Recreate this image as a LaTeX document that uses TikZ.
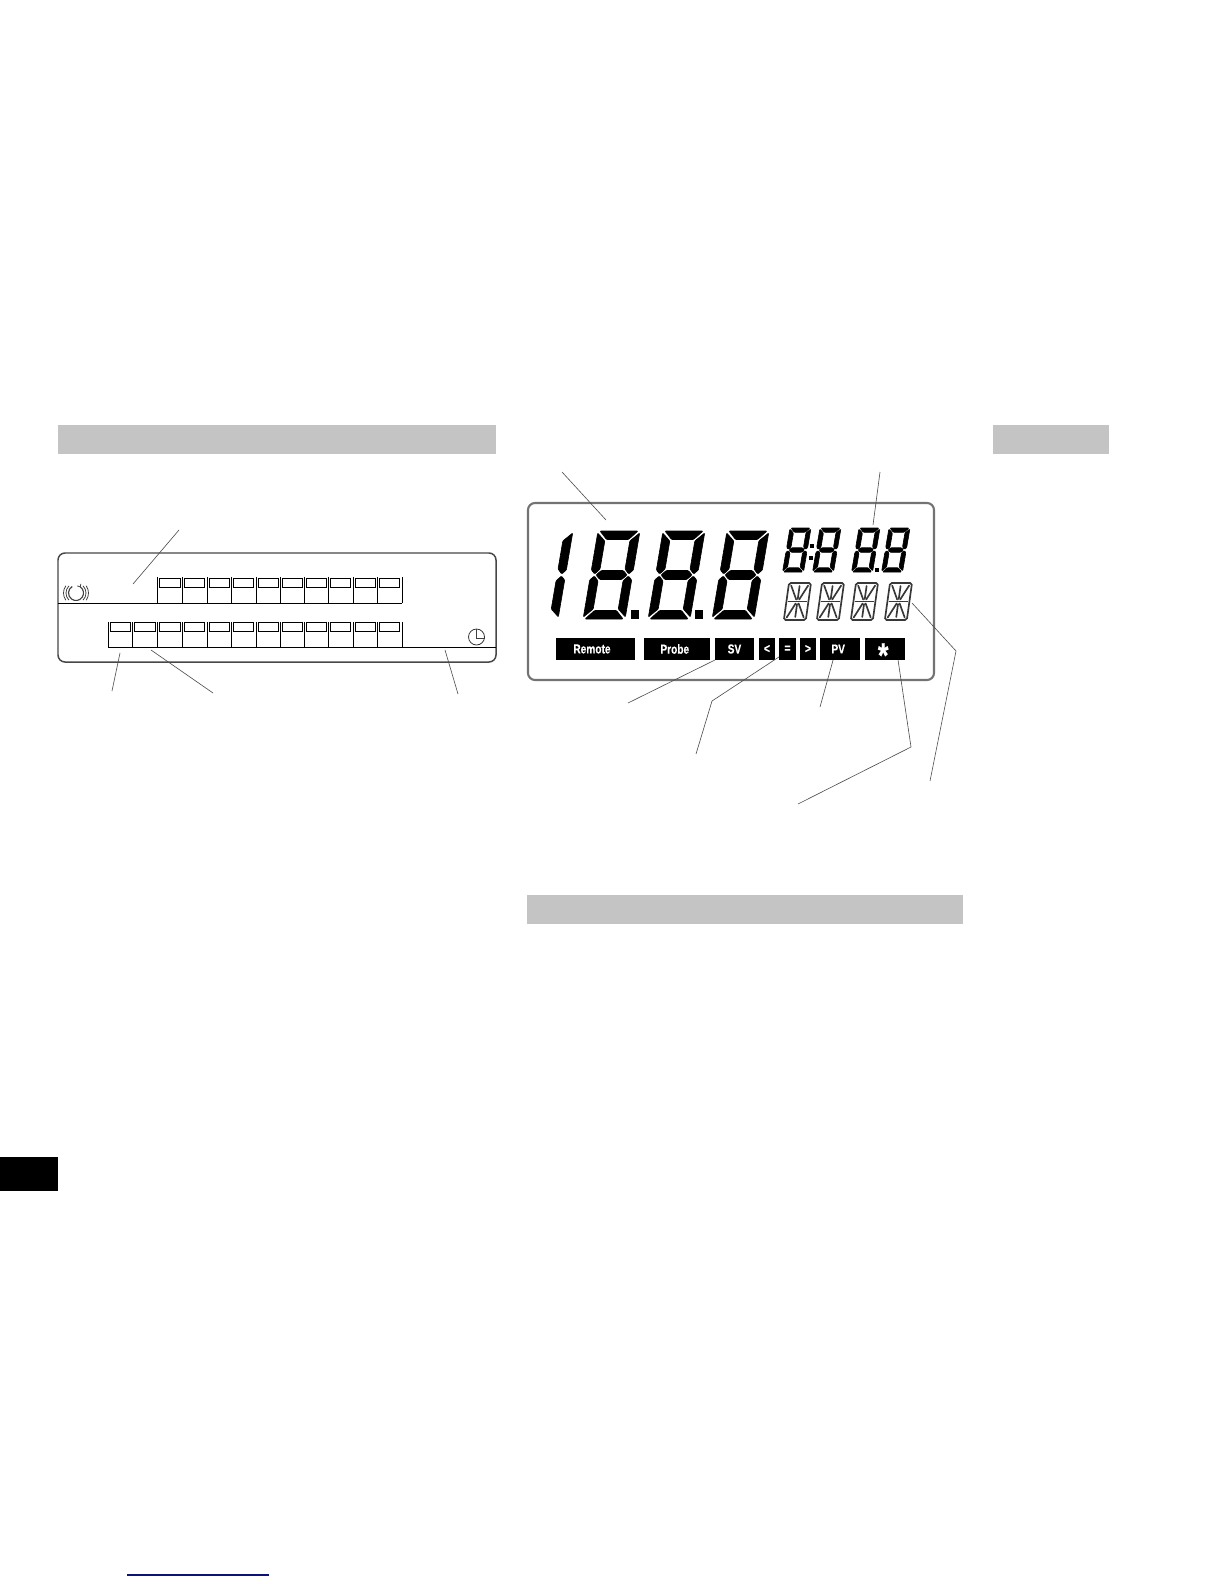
\documentclass[tikz,border=0pt]{standalone}
\usepackage{fontspec}
\newfontfamily\lcdfont[FakeStretch=0.78,BoldFeatures={FakeBold=0.3}]{Liberation Sans}
\usetikzlibrary{positioning}
\definecolor{bargray}{HTML}{C4C4C4}
\definecolor{linkblue}{HTML}{10107A}
\tikzset{
    headbar/.style={fill=bargray},
    panel/.style={draw=black!72, line width=0.85pt, rounded corners=4pt},
    lcdpanel/.style={draw=black!55, line width=1.2pt, rounded corners=4pt},
    keyline/.style={black, line width=0.55pt},
    leader/.style={black!70, line width=0.35pt},
    iconline/.style={black!75, line width=0.45pt},
    segfill/.style={fill=black, draw=black, line width=0.35pt, rounded corners=0.5pt},
    starseg/.style={black!78, line width=0.95pt, line cap=round},
    lcdbox/.style={rectangle, fill=black, text=white, inner sep=0pt, outer sep=0pt, minimum height=0.44cm, font=\lcdfont\bfseries\fontsize{7.4}{8}\selectfont}
}
% right hand segments only
\newcommand{\segright}[3]{
    \begin{scope}[shift={(#1,#2)}, scale=#3, xslant=0.17]
        \filldraw[segfill] (42,2) -- (33.5,10) -- (33.5,38) -- (38,43) -- (42,39) -- cycle;
        \filldraw[segfill] (42,49) -- (38,45) -- (33.5,50) -- (33.5,78) -- (42,86) -- cycle;
    \end{scope}
}
\newcommand{\segdigit}[3]{
    \segright{#1}{#2}{#3}
    \begin{scope}[shift={(#1,#2)}, scale=#3, xslant=0.17]
        \filldraw[segfill] (2,0) -- (40,0) -- (32,8.5) -- (10,8.5) -- cycle;
        \filldraw[segfill] (0,2) -- (8.5,10) -- (8.5,38) -- (4,43) -- (0,39) -- cycle;
        \filldraw[segfill] (5.5,44) -- (10,39.5) -- (32,39.5) -- (36.5,44) -- (32,48.5) -- (10,48.5) -- cycle;
        \filldraw[segfill] (0,49) -- (4,45) -- (8.5,50) -- (8.5,78) -- (0,86) -- cycle;
        \filldraw[segfill] (10,79.5) -- (32,79.5) -- (40,88) -- (2,88) -- cycle;
    \end{scope}
}
\newcommand{\stardigit}[2]{
    \begin{scope}[shift={(#1,#2)}, xslant=0.14]
        \draw[starseg, rounded corners=1pt] (0,0) rectangle (22,37);
        \draw[starseg] (2,18.5) -- (20,18.5);
        \draw[starseg] (11,3) -- (11,16) (11,21) -- (11,34);
        \draw[starseg] (2.5,2.5) -- (9.5,16.5) (19.5,2.5) -- (12.5,16.5);
        \draw[starseg] (2.5,34.5) -- (9.5,20.5) (19.5,34.5) -- (12.5,20.5);
    \end{scope}
}
\begin{document}
\begin{tikzpicture}[x=0.02cm, y=-0.02cm]
    \useasboundingbox (0,0) rectangle (1224,1584);

    \fill[headbar] (58,425) rectangle (496,454);
    \fill[headbar] (993,425) rectangle (1109,454);
    \fill[headbar] (527,895) rectangle (963,924);
    \fill[black] (0,1157) rectangle (58,1191);
    \draw[linkblue, line width=1pt] (127,1575) -- (269,1575);

    % left panel
    \draw[panel] (58,553) rectangle (496,662);
    \draw[keyline] (58,603) -- (402,603);
    \draw[keyline] (108,647) -- (496,647);
    \foreach \x in {157,182,207,231,256,280,304,328,353,377,402}
        \draw[keyline] (\x,577) -- (\x,603) (\x,622) -- (\x,647);
    \foreach \x in {108,132}
        \draw[keyline] (\x,622) -- (\x,647);
    \foreach \x in {159.5,184,209,233,258,282,306,330,355,379}
        \draw[keyline] (\x,578) rectangle ++(20.5,9);
    \foreach \x in {110,134.5,159.5,184,209,233,258,282,306,330,355,379}
        \draw[keyline] (\x,622) rectangle ++(20.5,9);

    % spinner and clock
    \coordinate (spin) at (76,593);
    \draw[iconline, line width=0.65pt] ([shift={(55:0.15cm)}]spin) arc[start angle=55, end angle=-240, radius=0.15cm];
    \draw[iconline] ([shift={(55:0.15cm)}]spin) -- ++(-3,-1) ([shift={(55:0.15cm)}]spin) -- ++(0.5,-3);
    \foreach \r/\a in {0.2cm/45,0.25cm/35} {
        \draw[iconline] ([shift={(-\a:\r)}]spin) arc[start angle=-\a, end angle=\a, radius=\r];
        \draw[iconline] ([shift={(180-\a:\r)}]spin) arc[start angle=180-\a, end angle=180+\a, radius=\r];
    }
    \node (clock) [circle, draw=black!80, line width=0.45pt, minimum size=0.32cm, inner sep=0pt] at (476.5,637) {};
    \draw[iconline] (clock.north) -- (476.5,638) -- (clock.east |- 476.5,638);

    \coordinate (tipA) at (179,530);
    \coordinate (endA) at (133,584);
    \coordinate (tipB) at (120,653);
    \coordinate (endB) at (112,691);
    \coordinate (tipC) at (151,650);
    \coordinate (endC) at (213,693);
    \coordinate (tipD) at (445,650);
    \coordinate (endD) at (458,694);
    \draw[leader] (tipA) -- (endA);
    \draw[leader] (tipB) -- (endB);
    \draw[leader] (tipC) -- (endC);
    \draw[leader] (tipD) -- (endD);

    % display
    \draw[lcdpanel] (528,503) rectangle (934,680);
    \segright{531}{531}{1}
    \segdigit{598}{531}{1}
    \segdigit{663}{531}{1}
    \segdigit{727}{531}{1}
    \fill (631,610) rectangle ++(8,9);
    \fill (695,610) rectangle ++(8,9);

    \segdigit{790}{528}{0.5}
    \segdigit{820}{528}{0.5}
    \segdigit{859}{528}{0.5}
    \segdigit{889}{528}{0.5}
    \fill (810,544) rectangle ++(3.5,3.5);
    \fill (809,556) rectangle ++(3.5,3.5);
    \fill (875,568) rectangle ++(3.5,3.5);

    \stardigit{789}{583}
    \stardigit{822}{583}
    \stardigit{856}{583}
    \stardigit{890}{583}

    \node (remote) [lcdbox, minimum width=1.58cm, anchor=west] at (556,649) {Remote\rule{4pt}{0pt}};
    \node (probe) [lcdbox, minimum width=1.32cm, right=0.18cm of remote] {Probe\rule{2.5pt}{0pt}};
    \node (sv) [lcdbox, minimum width=0.78cm, right=0.1cm of probe] {SV};
    \node (less) [lcdbox, minimum width=0.32cm, right=0.1cm of sv] {<};
    \node (equal) [lcdbox, minimum width=0.34cm, right=0.08cm of less] {=};
    \node (more) [lcdbox, minimum width=0.32cm, right=0.08cm of equal] {>};
    \node (pv) [lcdbox, minimum width=0.8cm, right=0.08cm of more] {PV\rule{2pt}{0pt}};
    \node (star) [lcdbox, minimum width=0.8cm, right=0.1cm of pv] {\fontsize{20}{20}\selectfont\smash{\raisebox{-10.5pt}{*}}\rule{2pt}{0pt}};

    \coordinate (tipE) at (562,472);
    \coordinate (endE) at (606,520);
    \coordinate (tipF) at (880,472);
    \coordinate (endF) at (873,525);
    \coordinate (endSV) at (628,703);
    \coordinate (bendEq) at (712,701);
    \coordinate (endEq) at (696,754);
    \coordinate (endPV) at (820,707);
    \coordinate (bendStar) at (911,747);
    \coordinate (endStar) at (798,804);
    \coordinate (tipSeg) at (912,603);
    \coordinate (bendSeg) at (956,651);
    \coordinate (endSeg) at (930,781);
    \draw[leader] (tipE) -- (endE);
    \draw[leader] (tipF) -- (endF);
    \draw[leader] (sv.south west) -- (endSV);
    \draw[leader] (equal.223) -- (bendEq) -- (endEq);
    \draw[leader] (pv.-122) -- (endPV);
    \draw[leader] (star.-40) -- (bendStar) -- (endStar);
    \draw[leader] (tipSeg) -- (bendSeg) -- (endSeg);
\end{tikzpicture}
\end{document}
